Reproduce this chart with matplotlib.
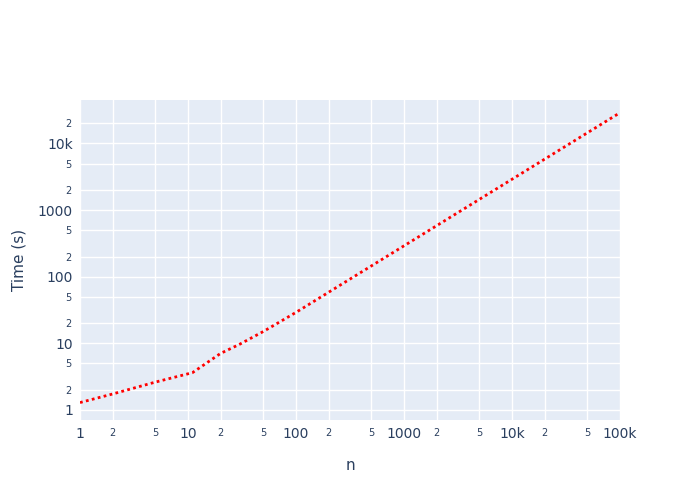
import matplotlib.pyplot as plt

# data
n = [1, 2, 5, 11, 20, 30, 50, 100, 200, 500, 1000, 2000, 5000,
     10000, 20000, 50000, 100000]
t = [1.28, 1.72, 2.6, 3.6, 7.0, 9.6, 15, 29, 58, 145, 290, 580, 1450,
     2900, 5800, 14500, 29000]

x_major = [1, 10, 100, 1000, 10000, 100000]
x_major_lbl = ["1", "10", "100", "1000", "10k", "100k"]
y_major = [1, 10, 100, 1000, 10000]
y_major_lbl = ["1", "10", "100", "1000", "10k"]

txt = "#2a3f5f"
fig = plt.figure(figsize=(7, 5), dpi=100)
ax = fig.add_axes([80 / 700, 80 / 500, 540 / 700, 320 / 500])
ax.set_facecolor("#E5ECF6")
ax.plot(n, t, color="red", linestyle=(0, (1, 1.2)), linewidth=2)
ax.set_xscale("log")
ax.set_yscale("log")
ax.set_xlim(1, 100000)
ax.set_ylim(0.7, 45000)

def minors(lo, hi):
    out = []
    d = 1
    while d < hi:
        for m in (2, 5):
            if lo <= m * d <= hi:
                out.append(m * d)
        d *= 10
    return out

xm = minors(1, 100000)
ym = minors(0.7, 45000)
ax.set_xticks(x_major)
ax.set_xticklabels(x_major_lbl)
ax.set_xticks(xm, minor=True)
ax.set_xticklabels([str(v)[0] for v in xm], minor=True)
ax.set_yticks(y_major)
ax.set_yticklabels(y_major_lbl)
ax.set_yticks(ym, minor=True)
ax.set_yticklabels([str(v)[0] for v in ym], minor=True)

ax.grid(True, which="both", color="white", linewidth=1)
ax.set_axisbelow(True)
for s in ax.spines.values():
    s.set_visible(False)
ax.tick_params(which="major", length=0, colors=txt, labelsize=10, pad=5)
ax.tick_params(which="minor", length=0, colors=txt, labelsize=7, pad=6)
ax.set_xlabel("n", color=txt, fontsize=11, labelpad=12)
ax.set_ylabel("Time (s)", color=txt, fontsize=11, labelpad=8)

fig.savefig("out.png", dpi=100)
